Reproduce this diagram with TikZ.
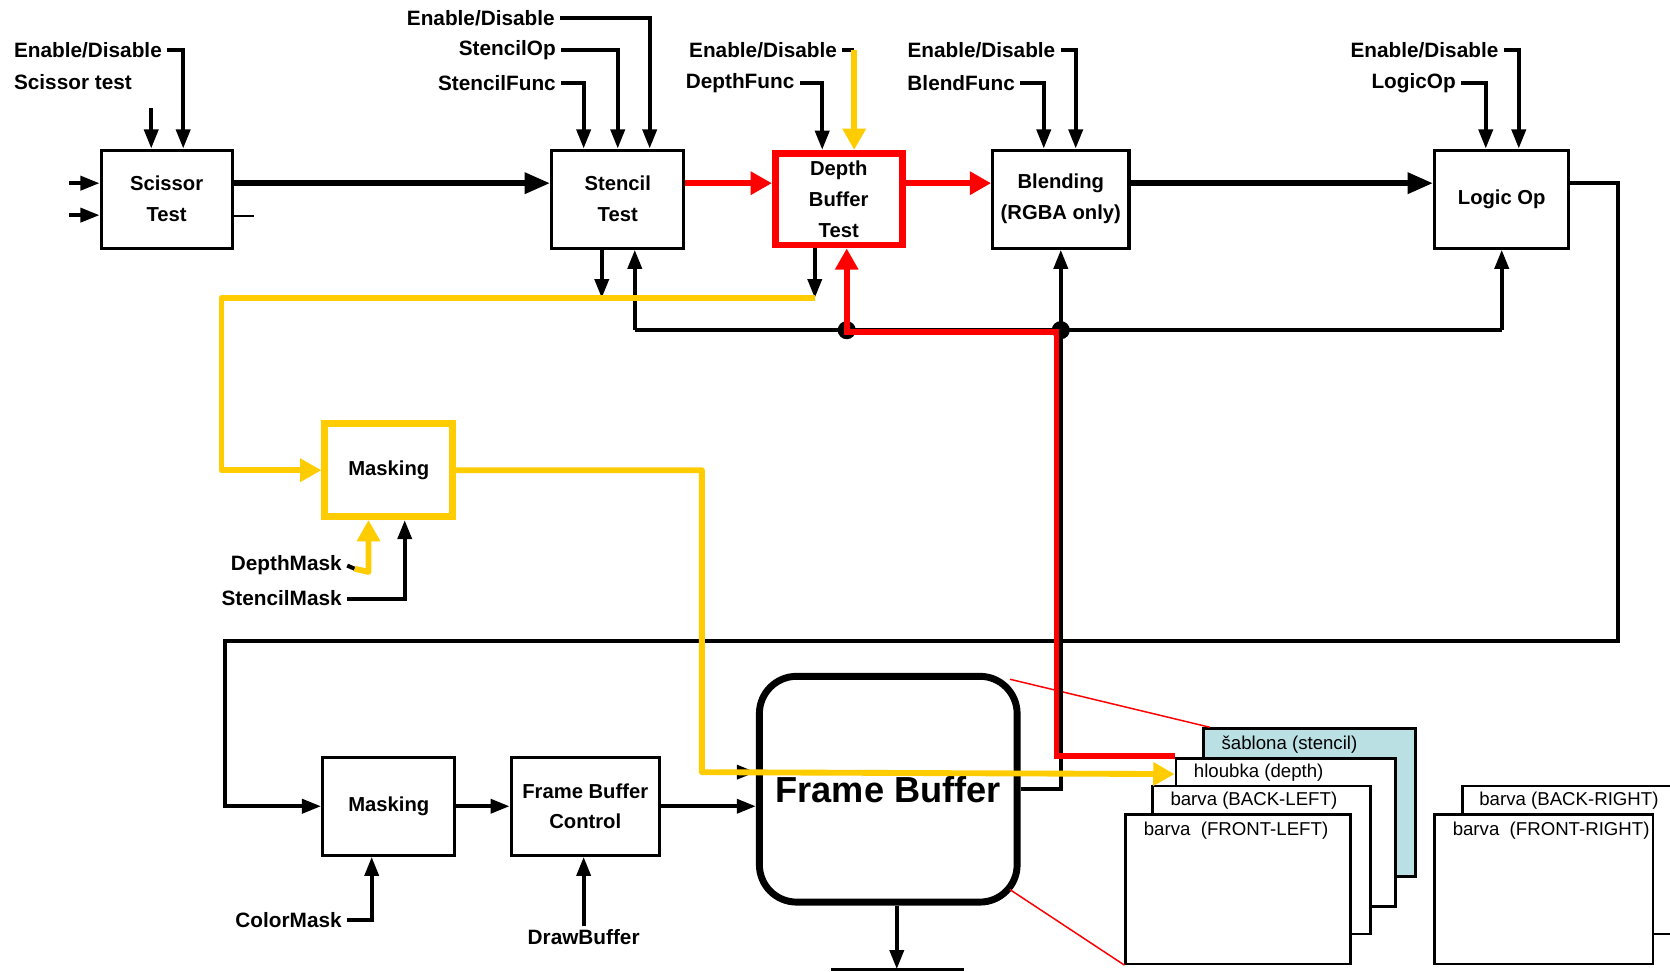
\documentclass[tikz,border=0pt]{standalone}
\usepackage{fontspec}
\setmainfont{Liberation Sans}
\usetikzlibrary{arrows.meta,calc}
\definecolor{hlred}{RGB}{255,0,0}
\definecolor{hlyel}{RGB}{255,204,0}
\definecolor{stfill}{RGB}{186,224,228}
\newcommand{\lblfont}{\bfseries\fontsize{19.5}{23}\selectfont}
\newcommand{\boxfont}{\bfseries\fontsize{19}{29}\selectfont}
\newcommand{\buffont}{\fontsize{17.5}{21}\selectfont}
\newcommand{\fbfont}{\bfseries\fontsize{34}{40}\selectfont}
\begin{document}
\begin{tikzpicture}[x=1pt,y=-1pt,
  wire/.style={line width=3.8pt},
  conn/.style={wire,-{Triangle[length=18pt,width=13pt]}},
  mainconn/.style={line width=5.5pt,-{Triangle[length=24pt,width=19pt]}},
  redconn/.style={draw=hlred,line width=5.5pt,-{Triangle[length=20pt,width=21pt]}},
  yelconn/.style={draw=hlyel,line width=5.5pt,-{Triangle[length=20pt,width=21pt]}},
  stage/.style={draw,line width=2.9pt,fill=white,inner sep=0pt,align=center,font=\boxfont},
  lbl/.style={font=\lblfont,inner xsep=5pt,inner ysep=0pt,anchor=east},
  buf/.style={draw,line width=2.4pt,fill=white,inner sep=0pt},
  buftxt/.style={font=\buffont,inner sep=0pt,anchor=west},
  dot/.style={circle,fill,inner sep=0pt,minimum size=17pt},
]
\fill[white] (0,0) rectangle (1568,912);
\useasboundingbox (0,0) rectangle (1568,912);

% ---------- pipeline stages ----------
\node[stage,minimum width=123,minimum height=92] (sc) at (156.5,187) {Scissor\\Test};
\node[stage,minimum width=124,minimum height=92] (st) at (580,187) {Stencil\\Test};
\node[stage,draw=hlred,line width=6.5pt,minimum width=119,minimum height=86] (db) at (787.5,187) {Depth\\Buffer\\Test};
\node[stage,minimum width=128,minimum height=92] (bl) at (996,187) {Blending\\(RGBA only)};
\node[stage,minimum width=126,minimum height=92] (lo) at (1410,187) {Logic Op};
\node[stage,draw=hlyel,line width=6.5pt,minimum width=120,minimum height=87] (m1) at (365,441.5) {Masking};
\node[stage,minimum width=124,minimum height=92] (m2) at (365,757) {Masking};
\node[stage,minimum width=139,minimum height=92] (fbc) at (549.5,757) {Frame Buffer\\Control};
\node[draw,line width=6.5pt,rounded corners=35pt,minimum width=242,minimum height=212,inner sep=0pt,font=\fbfont] (fb) at (834,741) {Frame Buffer};

% ---------- buffers of the frame buffer ----------
\node[buf,fill=stfill,minimum width=199,minimum height=139] (sb) at (1229.5,753.5) {};
\node[buf,minimum width=206,minimum height=139] (hl) at (1207,781.5) {};
\node[buf,minimum width=205,minimum height=139] (bbl) at (1184.5,807.5) {};
\node[buf,minimum width=211,minimum height=140] (bfl) at (1162.5,835) {};
\node[buf,minimum width=217,minimum height=139] (bbr) at (1481.5,807.5) {};
\node[buf,minimum width=205,minimum height=140] (bfr) at (1449.5,835) {};
\node[buftxt] at ([shift={(18,16)}]sb.north west) {šablona (stencil)};
\node[buftxt] at ([shift={(18,15)}]hl.north west) {hloubka (depth)};
\node[buftxt] at ([shift={(18,15)}]bbl.north west) {barva (BACK-LEFT)};
\node[buftxt] at ([shift={(18,16)}]bfl.north west) {barva\ \ (FRONT-LEFT)};
\node[buftxt] at ([shift={(17,15)}]bbr.north west) {barva (BACK-RIGHT)};
\node[buftxt] at ([shift={(18,16)}]bfr.north west) {barva\ \ (FRONT-RIGHT)};

% callout lines from the frame buffer to its buffers
\draw[hlred,line width=1.4pt] ([shift={(-10,6)}]fb.north east) -- ([xshift=7]sb.north west);
\draw[hlred,line width=1.4pt] ([shift={(-10,-15)}]fb.south east) -- (bfl.south west);

% ---------- control labels ----------
\node[lbl,anchor=west] (scE) at (8,47) {Enable/Disable};
\node[lbl,anchor=west,inner xsep=0pt] (scT) at (13,77) {Scissor test};
\node[lbl] (stE) at (526,17) {Enable/Disable};
\node[lbl] (stO) at (527,47) {StencilOp};
\node[lbl] (stF) at (527,78) {StencilFunc};
\node[lbl] (dbE) at (791,47) {Enable/Disable};
\node[lbl] (dbF) at (751,78) {DepthFunc};
\node[lbl] (blE) at (996,47) {Enable/Disable};
\node[lbl] (blF) at (958,78) {BlendFunc};
\node[lbl] (loE) at (1412,47) {Enable/Disable};
\node[lbl] (loF) at (1372,78) {LogicOp};
\node[lbl] (dmL) at (326,531) {DepthMask};
\node[lbl] (smL) at (326,562) {StencilMask};
\node[lbl] (cmL) at (326,864) {ColorMask};
\node[font=\lblfont,inner sep=3pt] (dbuf) at (548,880) {DrawBuffer};

% ---------- scissor test ----------
\draw[conn] (scE.east) -| ([xshift=15.5]sc.north);
\draw[conn] ([xshift=-14.5,yshift=38]sc.north) -- ([xshift=-14.5]sc.north);
\draw[conn] ([xshift=-29,yshift=15]sc.west) -- ([yshift=15]sc.west);
\draw[conn] ([xshift=-29,yshift=-15]sc.west) -- ([yshift=-15]sc.west);
\draw[line width=2pt] ([yshift=-16]sc.east) -- ++(19,0);
\draw[mainconn] ([yshift=15]sc.east) -- ([yshift=15]st.west);

% ---------- stencil test ----------
\draw[conn] (stE.east) -| ([xshift=30]st.north);
\draw[conn] (stO.east) -| (st.north);
\draw[conn] (stF.east) -| ([xshift=-32]st.north);

% ---------- depth test ----------
\coordinate (dy) at (802,47);
\draw[wire] (dbE.east) -- (dy);
\draw[conn] (dbF.east) -| ([xshift=-15.5]db.north);

% ---------- blending and logic op ----------
\draw[conn] (blE.east) -| ([xshift=14]bl.north);
\draw[conn] (blF.east) -| ([xshift=-16]bl.north);
\draw[conn] (loE.east) -| ([xshift=16]lo.north);
\draw[conn] (loF.east) -| ([xshift=-15]lo.north);
\draw[mainconn] ([yshift=15]bl.east) -- ([yshift=15]lo.west);

% feedback bus under the upper stages
\coordinate (busA) at (596,310);
\coordinate (busB) at (1410,310);
\coordinate (j1) at (795,310);
\coordinate (j2) at (996,310);
\draw[wire] (busA) -- (busB);
\draw[conn] (busA) -- (busA |- st.south);
\draw[conn] (busB) -- (lo.south);
\draw[conn] (j2) -- (bl.south);
\node[dot] at (j1) {};
\node[dot] at (j2) {};

% frame buffer read-back into the bus
\draw[wire] (fb.east) -| (j2);

% logic op output loops back to the lower masking stage
\coordinate (loopR) at (1519,602);
\coordinate (loopL) at (211,602);
\draw[conn] ([yshift=15]lo.east) -| (loopR) -- (loopL) |- (m2.west);

% lower chain
\draw[conn] (m2.east) -- (fbc.west);
\draw[conn] (fbc.east) -- (fbc.east -| fb.west);
\draw[conn] (cmL.east) -| ([xshift=-16]m2.south);
\draw[conn] (dbuf.north) -- (dbuf.north |- fbc.south);
\coordinate (gndL) at (780,910);
\coordinate (gndR) at (905,910);
\draw[conn] ([xshift=8]fb.south) -- ([xshift=8]fb.south |- gndL);
\draw[line width=3pt] (gndL) -- (gndR);

% mask inputs of the upper masking stage
\draw[conn] (smL.east) -| ([xshift=15]m1.south);
\coordinate (dmA) at (333,534);
\coordinate (dmB) at (346,537);
\draw[wire] (dmL.east) -- (dmA);

% stencil and depth outputs to the yellow path
\coordinate (yR) at (765,280);
\coordinate (yL) at (208,280);
\draw[conn] ([xshift=-15]st.south) -- ([xshift=-15]st.south |- yR);
\draw[conn] ([xshift=-22.5]db.south) -- ([xshift=-22.5]db.south |- yR);

% black input arrow of the frame buffer under the yellow path
\coordinate (yC) at (659,725);
\draw[conn] (yC) -- (yC -| fb.west);

% ---------- highlighted red path ----------
\draw[redconn] ([yshift=15]st.east) -- ([yshift=15]db.west);
\draw[redconn] ([yshift=15]db.east) -- ([yshift=15]bl.west);
\coordinate (rB) at (992,312);
\draw[redconn] ([yshift=1]hl.north west) -| (rB) -| ([xshift=7.5]db.south);

% ---------- highlighted yellow path ----------
\draw[yelconn] (dy) -- ([xshift=14.5]db.north);
\draw[yelconn,line join=round] (yR) -- (yL) |- (m1.west);
\draw[yelconn,line join=round] (m1.east) -| (yC) -- ([yshift=-16]hl.north west);
\draw[yelconn,line join=round] (dmA) -- (dmB) -- (dmB |- m1.south);
\end{tikzpicture}
\end{document}
